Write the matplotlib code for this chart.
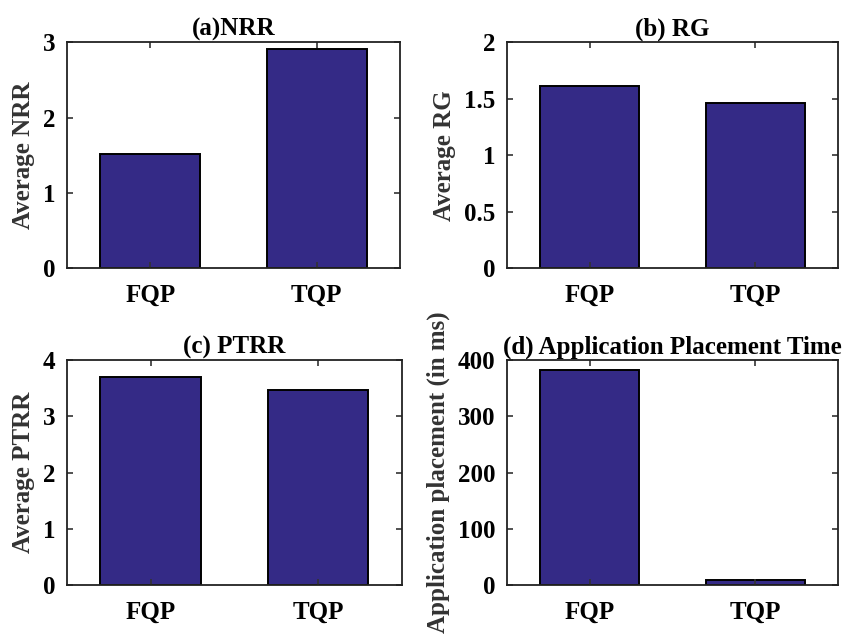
import matplotlib
matplotlib.use("Agg")
import matplotlib.pyplot as plt

# data
methods = ["FQP", "TQP"]
nrr = [1.52, 2.91]
rg = [1.61, 1.46]
ptrr = [3.70, 3.47]
place_time = [382, 9.5]

titles = ["(a)NRR", "(b) RG", "(c) PTRR", "(d) Application Placement Time"]
ylabels = ["Average NRR", "Average RG", "Average PTRR", "Application placement (in ms)"]
ylims = [(0, 3), (0, 2), (0, 4), (0, 400)]
yticks = [[0, 1, 2, 3], [0, 0.5, 1, 1.5, 2], [0, 1, 2, 3, 4], [0, 100, 200, 300, 400]]
yticklabels = [["0", "1", "2", "3"], ["0", "0.5", "1", "1.5", "2"],
               ["0", "1", "2", "3", "4"], ["0", "100", "200", "300", "400"]]

plt.rcParams['font.family'] = ['Liberation Serif', 'DejaVu Serif']
plt.rcParams['font.weight'] = 'bold'

fig = plt.figure(figsize=(8.46, 6.34), dpi=100)
# axes boxes in figure fractions (left, bottom, width, height)
boxes = [
    (0.079, 0.577, 0.394, 0.356),
    (0.599, 0.577, 0.392, 0.356),
    (0.079, 0.077, 0.396, 0.355),
    (0.599, 0.077, 0.392, 0.355),
]
series = [nrr, rg, ptrr, place_time]
x = [1, 2]

for i in range(4):
    ax = fig.add_axes(boxes[i])
    ax.bar(x, series[i], width=0.6, color='#342A86', edgecolor='black', linewidth=1.4)
    ax.set_xlim(0.5, 2.5)
    ax.set_ylim(*ylims[i])
    ax.set_xticks(x)
    ax.set_xticklabels(methods)
    ax.set_yticks(yticks[i])
    ax.set_yticklabels(yticklabels[i])
    ax.tick_params(direction='in', top=True, right=True, length=4, width=1.2,
                   labelsize=18, color='#333333')
    ax.tick_params(axis='x', pad=11)
    ax.tick_params(axis='y', pad=8)
    for s in ax.spines.values():
        s.set_linewidth(1.3)
        s.set_color('#222222')
    ax.set_title(titles[i], fontsize=18, fontweight='bold', pad=5)
    ax.set_ylabel(ylabels[i], fontsize=18, fontweight='bold', color='#333333', labelpad=6)

fig.savefig("out.png", dpi=100)
